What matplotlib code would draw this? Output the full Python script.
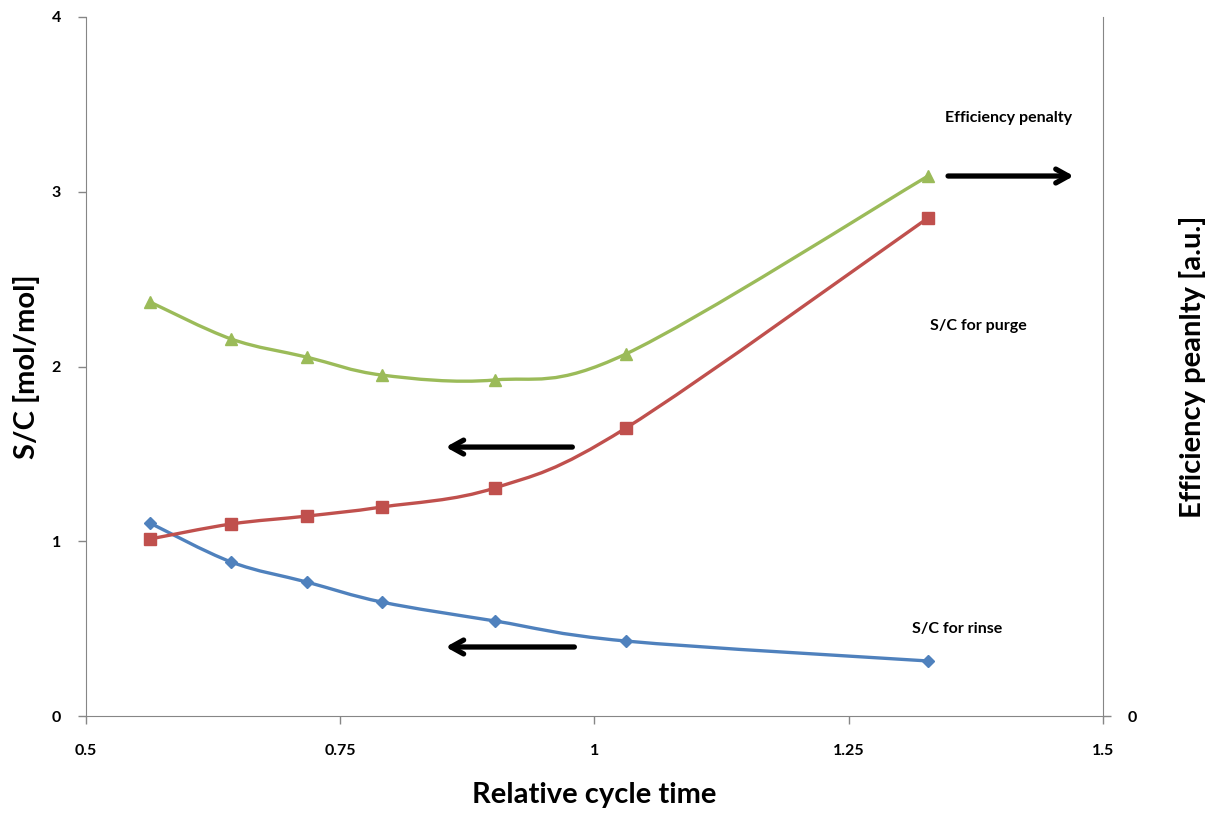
import matplotlib.pyplot as plt
from matplotlib.path import Path
from matplotlib.patches import PathPatch

# Relative cycle time (shared x values)
cycle_time = [0.563, 0.643, 0.717, 0.791, 0.902, 1.031, 1.328]

# S/C for rinse, S/C for purge (left axis), efficiency penalty (right axis)
sc_rinse = [1.104, 0.881, 0.767, 0.652, 0.544, 0.429, 0.315]
sc_purge = [1.013, 1.099, 1.144, 1.196, 1.305, 1.648, 2.850]
eff_penalty = [2.369, 2.157, 2.054, 1.951, 1.923, 2.072, 3.090]

x_ticks = [0.5, 0.75, 1, 1.25, 1.5]
x_tick_labels = ['0.5', '0.75', '1', '1.25', '1.5']
y_ticks = [0, 1, 2, 3, 4]

plt.rcParams['font.family'] = ['Lato', 'DejaVu Sans']
plt.rcParams['font.weight'] = 'bold'


def smooth_path(xs, ys):
    # Excel-like smoothed line: Catmull-Rom turned into cubic Bezier segments
    pts = list(zip(xs, ys))
    n = len(pts)
    verts = [pts[0]]
    codes = [Path.MOVETO]
    for i in range(n - 1):
        p0 = pts[max(i - 1, 0)]
        p1 = pts[i]
        p2 = pts[i + 1]
        p3 = pts[min(i + 2, n - 1)]
        c1 = (p1[0] + (p2[0] - p0[0]) / 6, p1[1] + (p2[1] - p0[1]) / 6)
        c2 = (p2[0] - (p3[0] - p1[0]) / 6, p2[1] - (p3[1] - p1[1]) / 6)
        verts += [c1, c2, p2]
        codes += [Path.CURVE4] * 3
    return Path(verts, codes)


def draw_series(ax, xs, ys, color, marker, size):
    ax.add_patch(PathPatch(smooth_path(xs, ys), facecolor='none',
                           edgecolor=color, lw=2.4, zorder=3))
    ax.plot(xs, ys, linestyle='none', marker=marker, color=color,
            markersize=size, zorder=4)


fig = plt.figure(figsize=(12.16, 8.17), dpi=100)
ax = fig.add_axes([0.0707, 0.1236, 0.8363, 0.8556])
ax2 = ax.twinx()

draw_series(ax, cycle_time, sc_rinse, '#4F81BD', 'D', 6.5)
draw_series(ax, cycle_time, sc_purge, '#C0504D', 's', 8)
draw_series(ax2, cycle_time, eff_penalty, '#9BBB59', '^', 8.5)

for a in (ax, ax2):
    a.set_xlim(0.5, 1.5)
    a.set_ylim(0, 4)
    a.spines['top'].set_visible(False)
    for s in a.spines.values():
        s.set_color('#868686')
    a.tick_params(colors='#868686', length=6, width=1, labelcolor='black',
                  labelsize=11.5)

ax.spines['right'].set_visible(False)
ax2.spines['left'].set_visible(False)
ax2.spines['bottom'].set_visible(False)

ax.set_xticks(x_ticks)
ax.set_xticklabels(x_tick_labels)
ax.set_yticks(y_ticks)
ax.tick_params(axis='x', pad=14)
ax.tick_params(axis='y', pad=12)
ax2.set_yticks([0])
ax2.tick_params(axis='y', pad=12)

ax.set_xlabel('Relative cycle time', fontsize=21, fontweight='bold')
ax.set_ylabel('S/C [mol/mol]', fontsize=21, fontweight='bold')
ax2.set_ylabel('Efficiency peanlty [a.u.]', fontsize=21, fontweight='bold')
ax.xaxis.set_label_coords(0.5, -0.095)
ax.yaxis.set_label_coords(-0.045, 0.5)
ax2.yaxis.set_label_coords(1.075, 0.5)

# Arrows telling which axis each curve belongs to
arrow = dict(arrowstyle='->, head_length=0.9, head_width=0.5', lw=3.8,
             color='black')
ax.annotate('', xy=(1.474, 3.09), xytext=(1.345, 3.09), arrowprops=arrow)
ax.annotate('', xy=(0.851, 1.539), xytext=(0.981, 1.539), arrowprops=arrow)
ax.annotate('', xy=(0.851, 0.395), xytext=(0.983, 0.395), arrowprops=arrow)

ax.text(1.407, 3.42, 'Efficiency penalty', ha='center', va='center',
        fontsize=11.5, fontweight='bold')
ax.text(1.378, 2.23, 'S/C for purge', ha='center', va='center',
        fontsize=11.5, fontweight='bold')
ax.text(1.357, 0.498, 'S/C for rinse', ha='center', va='center',
        fontsize=11.5, fontweight='bold')

fig.savefig('out.png', dpi=100)
